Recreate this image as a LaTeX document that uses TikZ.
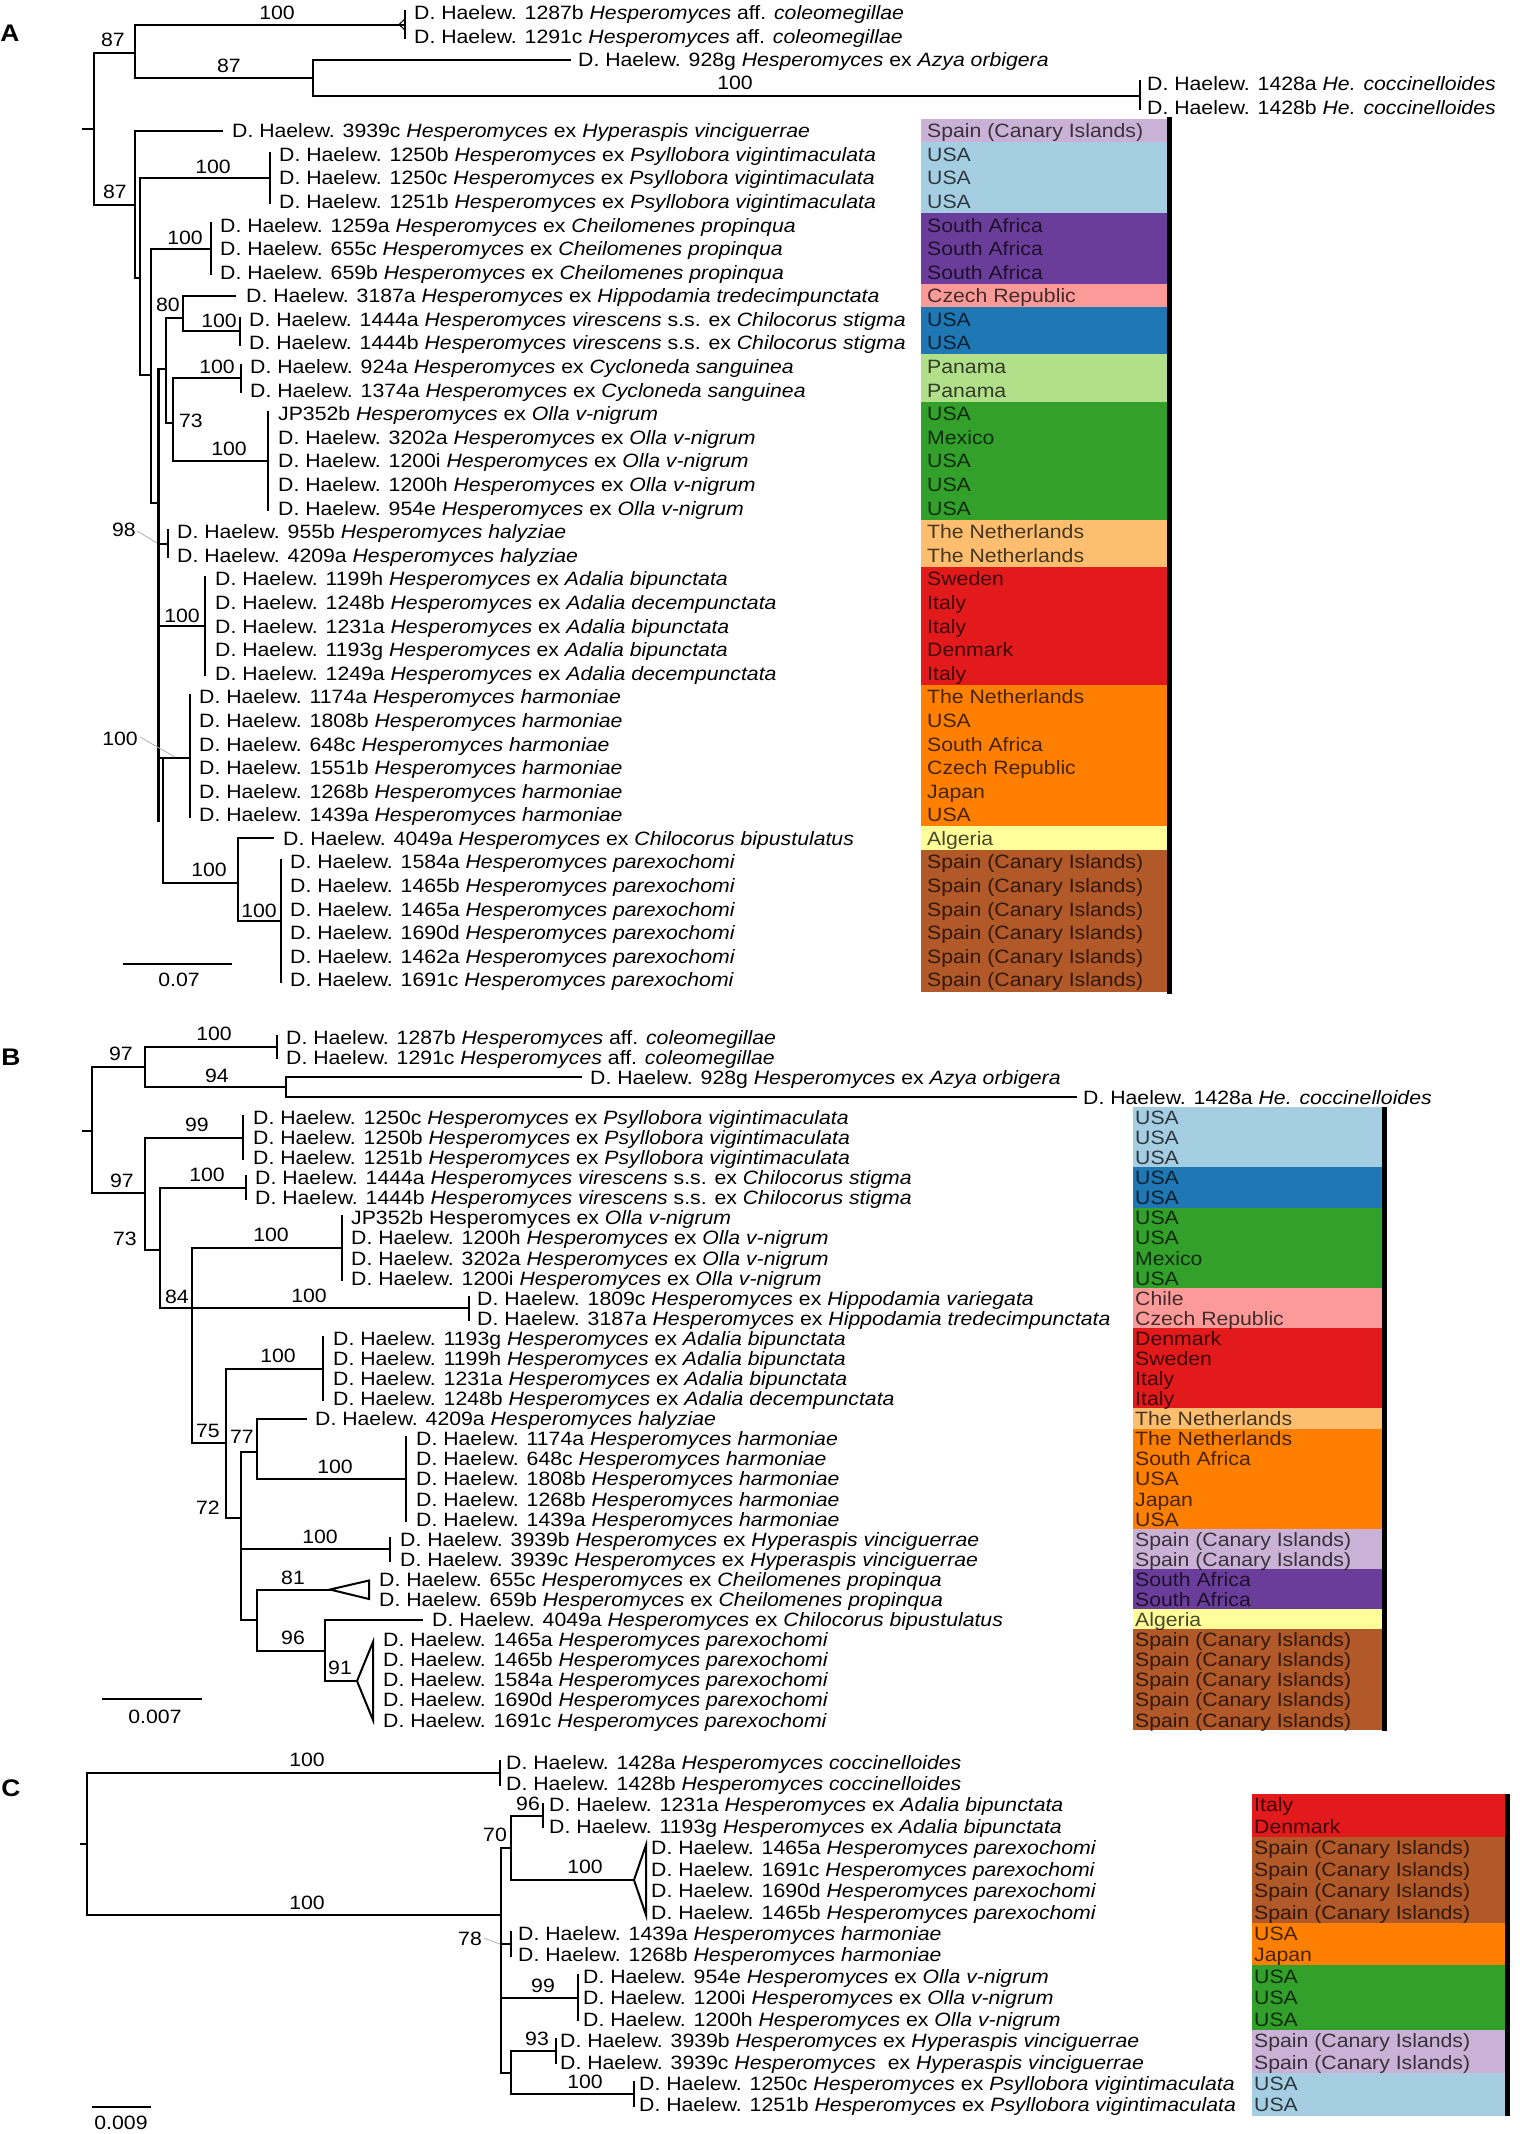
\documentclass[tikz,border=0pt]{standalone}
\usepackage{fontspec}
\setmainfont{Liberation Sans}[FakeStretch=1.1]
\definecolor{cLB}{HTML}{A6CEE3}
\definecolor{cBlue}{HTML}{1F78B4}
\definecolor{cLG}{HTML}{B2DF8A}
\definecolor{cGrn}{HTML}{33A02C}
\definecolor{cPink}{HTML}{FB9A99}
\definecolor{cRed}{HTML}{E31A1C}
\definecolor{cLO}{HTML}{FDBF6F}
\definecolor{cOr}{HTML}{FF7F00}
\definecolor{cLav}{HTML}{CAB2D6}
\definecolor{cPur}{HTML}{6A3D9A}
\definecolor{cYel}{HTML}{FFFF99}
\definecolor{cBr}{HTML}{B15928}
\newcommand{\Hes}{\textit{Hesperomyces}}
\newcommand{\Hx}[1]{\textit{Hesperomyces} ex \textit{#1}}
\newcommand{\tipA}[3]{\node[tlab] (a#1) at (#2,{12.7+23.59*#1}) {#3};}
\newcommand{\tipB}[3]{\node[tlab] (b#1) at (#2,{1037+20.09*#1}) {#3};}
\newcommand{\tipC}[3]{\node[tlab] (c#1) at (#2,{1762+21.43*#1}) {#3};}
\newcommand{\bsv}[4]{\node[bsl] (#1) at (#2,#3) {#4};}
\begin{document}
\begin{tikzpicture}[x=1pt,y=-1pt,font=\fontsize{19.3}{22}\selectfont,
  brl/.style={line width=2pt,line cap=rect},
  tbar/.style={line width=2.6pt},
  ldr/.style={line width=0.8pt,gray!60},
  tlab/.style={anchor=west,inner sep=0pt,text height=14pt,text depth=0pt},
  bsl/.style={inner sep=0pt,text height=14pt,text depth=0pt},
  ctry/.style={anchor=west,inner sep=0pt,text height=14pt,text depth=0pt,text opacity=0.72},
  plab/.style={inner sep=0pt,font=\fontsize{24}{26}\selectfont\bfseries}]
\useasboundingbox (0,0) rectangle (1519,2134);
\fill[white] (0,0) rectangle (1519,2134);

% ================= PANEL A =================
\node[plab] (pA) at (10,33.5) {A};
% colour boxes
\foreach \rr/\cc in {5/cLav,6/cLB,7/cLB,8/cLB,9/cPur,10/cPur,11/cPur,12/cPink,13/cBlue,14/cBlue,15/cLG,16/cLG,17/cGrn,18/cGrn,19/cGrn,20/cGrn,21/cGrn,22/cLO,23/cLO,24/cRed,25/cRed,26/cRed,27/cRed,28/cRed,29/cOr,30/cOr,31/cOr,32/cOr,33/cOr,34/cOr,35/cYel,36/cBr,37/cBr,38/cBr,39/cBr,40/cBr,41/cBr}{
  \fill[\cc] (921,{12.7+23.59*\rr-12.1}) rectangle (1167,{12.7+23.59*\rr+12.1});
}
\foreach \rr/\tx in {5/{Spain (Canary Islands)},6/USA,7/USA,8/USA,9/South Africa,10/South Africa,11/South Africa,12/Czech Republic,13/USA,14/USA,15/Panama,16/Panama,17/USA,18/Mexico,19/USA,20/USA,21/USA,22/The Netherlands,23/The Netherlands,24/Sweden,25/Italy,26/Italy,27/Denmark,28/Italy,29/The Netherlands,30/USA,31/South Africa,32/Czech Republic,33/Japan,34/USA,35/Algeria,36/{Spain (Canary Islands)},37/{Spain (Canary Islands)},38/{Spain (Canary Islands)},39/{Spain (Canary Islands)},40/{Spain (Canary Islands)},41/{Spain (Canary Islands)}}{
  \node[ctry] (ka\rr) at (927,{12.7+23.59*\rr}) {\tx};
}
\draw[line width=5pt] (1169.5,117) -- (1169.5,994);
% tree
\draw[brl] (83,129) -- (94,129);
\draw[brl] (94,53) -- (94,205);
\draw[brl] (94,53) -- (135,53);
\draw[brl] (135,24.5) -- (135,78);
\draw[brl] (135,24.5) -- (405,24.5);
\draw[tbar] (405,10) -- (405,39);
\draw[line width=1pt] (399,24.5) -- (405,19) (399,24.5) -- (405,30);
\draw[brl] (135,78) -- (313,78);
\draw[brl] (313,60) -- (313,95.5);
\draw[brl] (313,60) -- (570,60);
\draw[brl] (313,95.5) -- (1140,95.5);
\draw[tbar] (1140,80) -- (1140,110);
\draw[brl] (94,205) -- (135,205);
\draw[brl] (135,130.7) -- (135,278);
\draw[brl] (135,130.7) -- (222,130.7);
\draw[brl] (135,278) -- (140,278);
\draw[brl] (140,178) -- (140,375);
\draw[brl] (140,178) -- (270,178);
\draw[tbar] (270,152) -- (270,204);
\draw[brl] (140,375) -- (151,375);
\draw[brl] (151,248.6) -- (151,503);
\draw[brl] (151,248.6) -- (211,248.6);
\draw[tbar] (211,222) -- (211,275);
\draw[brl] (151,503) -- (158,503);
\draw[brl,line width=3pt] (158,369) -- (158,820);
\draw[brl] (158,369) -- (166,369);
\draw[brl] (166,318) -- (166,423);
\draw[brl] (166,318) -- (183,318);
\draw[brl] (183,295.8) -- (183,331.2);
\draw[brl] (183,295.8) -- (235,295.8);
\draw[brl] (183,331.2) -- (240,331.2);
\draw[tbar] (240,317) -- (240,346);
\draw[brl] (166,423) -- (173,423);
\draw[brl] (173,378.4) -- (173,461);
\draw[brl] (173,378.4) -- (241,378.4);
\draw[tbar] (241,364) -- (241,393);
\draw[brl] (173,461) -- (268,461);
\draw[tbar] (268,411) -- (268,511);
\draw[brl] (158,543.5) -- (168,543.5);
\draw[tbar] (168,529) -- (168,558);
\draw[brl] (158,626) -- (205,626);
\draw[tbar] (205,576) -- (205,676);
\draw[brl,line width=2.5pt] (163,758) -- (163,883);
\draw[brl] (158,758) -- (190,758);
\draw[tbar] (190,694) -- (190,818);
\draw[brl] (163,883) -- (238,883);
\draw[brl] (238,838.4) -- (238,921);
\draw[brl] (238,838.4) -- (273,838.4);
\draw[brl] (238,921) -- (281,921);
\draw[tbar] (281,859) -- (281,983);
\draw[brl] (124,964) -- (231,964);
\draw[ldr] (137,531) -- (157,543);
\draw[ldr] (140,737) -- (175,757);
% support values A
\bsv{sa1}{113}{39}{87}
\bsv{sa2}{277}{12}{100}
\bsv{sa3}{229}{65}{87}
\bsv{sa4}{735}{82}{100}
\bsv{sa5}{115}{191}{87}
\bsv{sa6}{213}{166}{100}
\bsv{sa7}{185}{237}{100}
\bsv{sa8}{168}{304}{80}
\bsv{sa9}{219}{320}{100}
\bsv{sa10}{217}{366}{100}
\bsv{sa11}{191}{420}{73}
\bsv{sa12}{229}{448}{100}
\bsv{sa13}{124}{529}{98}
\bsv{sa14}{182}{615}{100}
\bsv{sa15}{120}{738}{100}
\bsv{sa16}{209}{869}{100}
\bsv{sa17}{259}{910}{100}
\bsv{sa18}{179}{979}{0.07}
% tips A
\tipA{0}{414}{D. Haelew. 1287b \Hes\ aff. \textit{coleomegillae}}
\tipA{1}{414}{D. Haelew. 1291c \Hes\ aff. \textit{coleomegillae}}
\tipA{2}{578}{D. Haelew. 928g \Hx{Azya orbigera}}
\tipA{3}{1147}{D. Haelew. 1428a \textit{He. coccinelloides}}
\tipA{4}{1147}{D. Haelew. 1428b \textit{He. coccinelloides}}
\tipA{5}{232}{D. Haelew. 3939c \Hx{Hyperaspis vinciguerrae}}
\tipA{6}{279}{D. Haelew. 1250b \Hx{Psyllobora vigintimaculata}}
\tipA{7}{279}{D. Haelew. 1250c \Hx{Psyllobora vigintimaculata}}
\tipA{8}{279}{D. Haelew. 1251b \Hx{Psyllobora vigintimaculata}}
\tipA{9}{220}{D. Haelew. 1259a \Hx{Cheilomenes propinqua}}
\tipA{10}{220}{D. Haelew. 655c \Hx{Cheilomenes propinqua}}
\tipA{11}{220}{D. Haelew. 659b \Hx{Cheilomenes propinqua}}
\tipA{12}{246}{D. Haelew. 3187a \Hx{Hippodamia tredecimpunctata}}
\tipA{13}{249}{D. Haelew. 1444a \textit{Hesperomyces virescens} s.s. ex \textit{Chilocorus stigma}}
\tipA{14}{249}{D. Haelew. 1444b \textit{Hesperomyces virescens} s.s. ex \textit{Chilocorus stigma}}
\tipA{15}{250}{D. Haelew. 924a \Hx{Cycloneda sanguinea}}
\tipA{16}{250}{D. Haelew. 1374a \Hx{Cycloneda sanguinea}}
\tipA{17}{278}{JP352b \Hx{Olla v-nigrum}}
\tipA{18}{278}{D. Haelew. 3202a \Hx{Olla v-nigrum}}
\tipA{19}{278}{D. Haelew. 1200i \Hx{Olla v-nigrum}}
\tipA{20}{278}{D. Haelew. 1200h \Hx{Olla v-nigrum}}
\tipA{21}{278}{D. Haelew. 954e \Hx{Olla v-nigrum}}
\tipA{22}{177}{D. Haelew. 955b \textit{Hesperomyces halyziae}}
\tipA{23}{177}{D. Haelew. 4209a \textit{Hesperomyces halyziae}}
\tipA{24}{215}{D. Haelew. 1199h \Hx{Adalia bipunctata}}
\tipA{25}{215}{D. Haelew. 1248b \Hx{Adalia decempunctata}}
\tipA{26}{215}{D. Haelew. 1231a \Hx{Adalia bipunctata}}
\tipA{27}{215}{D. Haelew. 1193g \Hx{Adalia bipunctata}}
\tipA{28}{215}{D. Haelew. 1249a \Hx{Adalia decempunctata}}
\tipA{29}{199}{D. Haelew. 1174a \textit{Hesperomyces harmoniae}}
\tipA{30}{199}{D. Haelew. 1808b \textit{Hesperomyces harmoniae}}
\tipA{31}{199}{D. Haelew. 648c \textit{Hesperomyces harmoniae}}
\tipA{32}{199}{D. Haelew. 1551b \textit{Hesperomyces harmoniae}}
\tipA{33}{199}{D. Haelew. 1268b \textit{Hesperomyces harmoniae}}
\tipA{34}{199}{D. Haelew. 1439a \textit{Hesperomyces harmoniae}}
\tipA{35}{283}{D. Haelew. 4049a \Hx{Chilocorus bipustulatus}}
\tipA{36}{290}{D. Haelew. 1584a \textit{Hesperomyces parexochomi}}
\tipA{37}{290}{D. Haelew. 1465b \textit{Hesperomyces parexochomi}}
\tipA{38}{290}{D. Haelew. 1465a \textit{Hesperomyces parexochomi}}
\tipA{39}{290}{D. Haelew. 1690d \textit{Hesperomyces parexochomi}}
\tipA{40}{290}{D. Haelew. 1462a \textit{Hesperomyces parexochomi}}
\tipA{41}{290}{D. Haelew. 1691c \textit{Hesperomyces parexochomi}}

% ================= PANEL B =================
\node[plab] (pB) at (11,1057) {B};
\foreach \rr/\cc in {4/cLB,5/cLB,6/cLB,7/cBlue,8/cBlue,9/cGrn,10/cGrn,11/cGrn,12/cGrn,13/cPink,14/cPink,15/cRed,16/cRed,17/cRed,18/cRed,19/cLO,20/cOr,21/cOr,22/cOr,23/cOr,24/cOr,25/cLav,26/cLav,27/cPur,28/cPur,29/cYel,30/cBr,31/cBr,32/cBr,33/cBr,34/cBr}{
  \fill[\cc] (1133,{1037+20.09*\rr-10.3}) rectangle (1382,{1037+20.09*\rr+10.3});
}
\foreach \rr/\tx in {4/USA,5/USA,6/USA,7/USA,8/USA,9/USA,10/USA,11/Mexico,12/USA,13/Chile,14/Czech Republic,15/Denmark,16/Sweden,17/Italy,18/Italy,19/The Netherlands,20/The Netherlands,21/South Africa,22/USA,23/Japan,24/USA,25/{Spain (Canary Islands)},26/{Spain (Canary Islands)},27/South Africa,28/South Africa,29/Algeria,30/{Spain (Canary Islands)},31/{Spain (Canary Islands)},32/{Spain (Canary Islands)},33/{Spain (Canary Islands)},34/{Spain (Canary Islands)}}{
  \node[ctry] (kb\rr) at (1135,{1037+20.09*\rr}) {\tx};
}
\draw[line width=5pt] (1384.5,1107) -- (1384.5,1730.5);
% tree B
\draw[brl] (83,1130.7) -- (92,1130.7);
\draw[brl] (92,1067) -- (92,1193);
\draw[brl] (92,1067) -- (145,1067);
\draw[brl] (145,1047) -- (145,1087.3);
\draw[brl] (145,1047) -- (277,1047);
\draw[tbar] (277,1035) -- (277,1059);
\draw[brl] (145,1087.3) -- (286,1087.3);
\draw[brl] (286,1077.2) -- (286,1097.3);
\draw[brl] (286,1077.2) -- (581,1077.2);
\draw[brl] (286,1097.3) -- (1076,1097.3);
\draw[brl] (92,1193) -- (145,1193);
\draw[brl] (145,1137.5) -- (145,1250);
\draw[brl] (145,1137.5) -- (243,1137.5);
\draw[tbar] (243,1115) -- (243,1160);
\draw[brl] (145,1250) -- (160,1250);
\draw[brl] (160,1187.7) -- (160,1308.2);
\draw[brl] (160,1187.7) -- (246,1187.7);
\draw[tbar] (246,1175) -- (246,1200);
\draw[brl] (160,1308.2) -- (469,1308.2);
\draw[tbar] (469,1296) -- (469,1321);
\draw[brl] (192,1248) -- (192,1443);
\draw[brl] (192,1248) -- (342,1248);
\draw[tbar] (342,1215) -- (342,1281);
\draw[brl] (192,1443) -- (226,1443);
\draw[brl] (226,1368.5) -- (226,1518);
\draw[brl] (226,1368.5) -- (323,1368.5);
\draw[tbar] (323,1336) -- (323,1401);
\draw[brl] (226,1518) -- (241,1518);
\draw[brl] (241,1452) -- (241,1620);
\draw[brl] (241,1452) -- (257,1452);
\draw[brl] (257,1418.7) -- (257,1479);
\draw[brl] (257,1418.7) -- (306,1418.7);
\draw[brl] (257,1479) -- (406,1479);
\draw[tbar] (406,1436) -- (406,1522);
\draw[brl] (241,1549.3) -- (390,1549.3);
\draw[tbar] (390,1537) -- (390,1562);
\draw[brl] (241,1620) -- (257,1620);
\draw[brl] (257,1589.5) -- (257,1651);
\draw[brl] (257,1589.5) -- (330,1589.5);
\draw[brl,line join=miter] (330,1589.5) -- (369,1580.5) -- (369,1599) -- cycle;
\draw[brl] (257,1651) -- (325,1651);
\draw[brl] (325,1619.6) -- (325,1681);
\draw[brl] (325,1619.6) -- (422,1619.6);
\draw[brl] (325,1681) -- (357,1681);
\draw[brl,line join=miter] (357,1681) -- (373,1642) -- (373,1720) -- cycle;
\draw[brl] (103,1699) -- (201,1699);
% support values B
\bsv{sb1}{121}{1053}{97}
\bsv{sb2}{214}{1033}{100}
\bsv{sb3}{217}{1075}{94}
\bsv{sb4}{122}{1180}{97}
\bsv{sb5}{197}{1124}{99}
\bsv{sb6}{125}{1238}{73}
\bsv{sb7}{207}{1174}{100}
\bsv{sb8}{177}{1296}{84}
\bsv{sb9}{271}{1234}{100}
\bsv{sb10}{309}{1295}{100}
\bsv{sb11}{208}{1430}{75}
\bsv{sb12}{278}{1355}{100}
\bsv{sb13}{208}{1507}{72}
\bsv{sb14}{242}{1436}{77}
\bsv{sb15}{335}{1466}{100}
\bsv{sb16}{320}{1536}{100}
\bsv{sb17}{293}{1577}{81}
\bsv{sb18}{293}{1637}{96}
\bsv{sb19}{340}{1667}{91}
\bsv{sb20}{155}{1716}{0.007}
% tips B
\tipB{0}{286}{D. Haelew. 1287b \Hes\ aff. \textit{coleomegillae}}
\tipB{1}{286}{D. Haelew. 1291c \Hes\ aff. \textit{coleomegillae}}
\tipB{2}{590}{D. Haelew. 928g \Hx{Azya orbigera}}
\tipB{3}{1083}{D. Haelew. 1428a \textit{He. coccinelloides}}
\tipB{4}{253}{D. Haelew. 1250c \Hx{Psyllobora vigintimaculata}}
\tipB{5}{253}{D. Haelew. 1250b \Hx{Psyllobora vigintimaculata}}
\tipB{6}{253}{D. Haelew. 1251b \Hx{Psyllobora vigintimaculata}}
\tipB{7}{255}{D. Haelew. 1444a \textit{Hesperomyces virescens} s.s. ex \textit{Chilocorus stigma}}
\tipB{8}{255}{D. Haelew. 1444b \textit{Hesperomyces virescens} s.s. ex \textit{Chilocorus stigma}}
\tipB{9}{351}{JP352b Hesperomyces ex \textit{Olla v-nigrum}}
\tipB{10}{351}{D. Haelew. 1200h \Hx{Olla v-nigrum}}
\tipB{11}{351}{D. Haelew. 3202a \Hx{Olla v-nigrum}}
\tipB{12}{351}{D. Haelew. 1200i \Hx{Olla v-nigrum}}
\tipB{13}{477}{D. Haelew. 1809c \Hx{Hippodamia variegata}}
\tipB{14}{477}{D. Haelew. 3187a \Hx{Hippodamia tredecimpunctata}}
\tipB{15}{333}{D. Haelew. 1193g \Hx{Adalia bipunctata}}
\tipB{16}{333}{D. Haelew. 1199h \Hx{Adalia bipunctata}}
\tipB{17}{333}{D. Haelew. 1231a \Hx{Adalia bipunctata}}
\tipB{18}{333}{D. Haelew. 1248b \Hx{Adalia decempunctata}}
\tipB{19}{315}{D. Haelew. 4209a \textit{Hesperomyces halyziae}}
\tipB{20}{416}{D. Haelew. 1174a \textit{Hesperomyces harmoniae}}
\tipB{21}{416}{D. Haelew. 648c \textit{Hesperomyces harmoniae}}
\tipB{22}{416}{D. Haelew. 1808b \textit{Hesperomyces harmoniae}}
\tipB{23}{416}{D. Haelew. 1268b \textit{Hesperomyces harmoniae}}
\tipB{24}{416}{D. Haelew. 1439a \textit{Hesperomyces harmoniae}}
\tipB{25}{400}{D. Haelew. 3939b \Hx{Hyperaspis vinciguerrae}}
\tipB{26}{400}{D. Haelew. 3939c \Hx{Hyperaspis vinciguerrae}}
\tipB{27}{379}{D. Haelew. 655c \Hx{Cheilomenes propinqua}}
\tipB{28}{379}{D. Haelew. 659b \Hx{Cheilomenes propinqua}}
\tipB{29}{432}{D. Haelew. 4049a \Hx{Chilocorus bipustulatus}}
\tipB{30}{383}{D. Haelew. 1465a \textit{Hesperomyces parexochomi}}
\tipB{31}{383}{D. Haelew. 1465b \textit{Hesperomyces parexochomi}}
\tipB{32}{383}{D. Haelew. 1584a \textit{Hesperomyces parexochomi}}
\tipB{33}{383}{D. Haelew. 1690d \textit{Hesperomyces parexochomi}}
\tipB{34}{383}{D. Haelew. 1691c \textit{Hesperomyces parexochomi}}

% ================= PANEL C =================
\node[plab] (pC) at (11,1788) {C};
\foreach \rr/\cc in {2/cRed,3/cRed,4/cBr,5/cBr,6/cBr,7/cBr,8/cOr,9/cOr,10/cGrn,11/cGrn,12/cGrn,13/cLav,14/cLav,15/cLB,16/cLB}{
  \fill[\cc] (1252,{1762+21.43*\rr-10.9}) rectangle (1505,{1762+21.43*\rr+10.9});
}
\foreach \rr/\tx in {2/Italy,3/Denmark,4/{Spain (Canary Islands)},5/{Spain (Canary Islands)},6/{Spain (Canary Islands)},7/{Spain (Canary Islands)},8/USA,9/Japan,10/USA,11/USA,12/USA,13/{Spain (Canary Islands)},14/{Spain (Canary Islands)},15/USA,16/USA}{
  \node[ctry] (kc\rr) at (1254,{1762+21.43*\rr}) {\tx};
}
\draw[line width=5pt] (1507,1794) -- (1507,2115.6);
% tree C
\draw[brl] (81,1844) -- (87,1844);
\draw[brl] (87,1772.7) -- (87,1915);
\draw[brl] (87,1772.7) -- (500,1772.7);
\draw[tbar] (500,1760) -- (500,1786);
\draw[brl] (87,1915) -- (501,1915);
\draw[brl] (501,1848) -- (501,2072.7);
\draw[brl] (501,1848) -- (511,1848);
\draw[brl] (511,1815.6) -- (511,1880);
\draw[brl] (511,1815.6) -- (543,1815.6);
\draw[tbar] (543,1803) -- (543,1828);
\draw[brl] (511,1880) -- (634,1880);
\draw[brl,line join=miter] (634,1880) -- (646,1845) -- (646,1915) -- cycle;
\draw[brl] (501,1944.2) -- (511,1944.2);
\draw[tbar] (511,1931) -- (511,1957);
\draw[brl] (501,1997.7) -- (578,1997.7);
\draw[tbar] (578,1974) -- (578,2021);
\draw[brl] (501,2072.7) -- (511,2072.7);
\draw[brl] (511,2051.3) -- (511,2094.2);
\draw[brl] (511,2051.3) -- (556,2051.3);
\draw[tbar] (556,2038) -- (556,2064);
\draw[brl] (511,2094.2) -- (634,2094.2);
\draw[tbar] (634,2081) -- (634,2107);
\draw[brl] (93,2107) -- (150,2107);
\draw[ldr] (484,1938) -- (500,1944);
% support values C
\bsv{sc1}{307}{1759}{100}
\bsv{sc2}{307}{1902}{100}
\bsv{sc3}{495}{1834}{70}
\bsv{sc4}{528}{1803}{96}
\bsv{sc5}{585}{1866}{100}
\bsv{sc6}{470}{1938}{78}
\bsv{sc7}{543}{1985}{99}
\bsv{sc8}{537}{2038}{93}
\bsv{sc9}{585}{2081}{100}
\bsv{sc10}{121}{2122}{0.009}
% tips C
\tipC{0}{506}{D. Haelew. 1428a \textit{Hesperomyces coccinelloides}}
\tipC{1}{506}{D. Haelew. 1428b \textit{Hesperomyces coccinelloides}}
\tipC{2}{549}{D. Haelew. 1231a \Hx{Adalia bipunctata}}
\tipC{3}{549}{D. Haelew. 1193g \Hx{Adalia bipunctata}}
\tipC{4}{651}{D. Haelew. 1465a \textit{Hesperomyces parexochomi}}
\tipC{5}{651}{D. Haelew. 1691c \textit{Hesperomyces parexochomi}}
\tipC{6}{651}{D. Haelew. 1690d \textit{Hesperomyces parexochomi}}
\tipC{7}{651}{D. Haelew. 1465b \textit{Hesperomyces parexochomi}}
\tipC{8}{518}{D. Haelew. 1439a \textit{Hesperomyces harmoniae}}
\tipC{9}{518}{D. Haelew. 1268b \textit{Hesperomyces harmoniae}}
\tipC{10}{583}{D. Haelew. 954e \Hx{Olla v-nigrum}}
\tipC{11}{583}{D. Haelew. 1200i \Hx{Olla v-nigrum}}
\tipC{12}{583}{D. Haelew. 1200h \Hx{Olla v-nigrum}}
\tipC{13}{560}{D. Haelew. 3939b \Hx{Hyperaspis vinciguerrae}}
\tipC{14}{560}{D. Haelew. 3939c \Hes\ \ ex \textit{Hyperaspis vinciguerrae}}
\tipC{15}{639}{D. Haelew. 1250c \Hx{Psyllobora vigintimaculata}}
\tipC{16}{639}{D. Haelew. 1251b \Hx{Psyllobora vigintimaculata}}
\end{tikzpicture}
\end{document}
